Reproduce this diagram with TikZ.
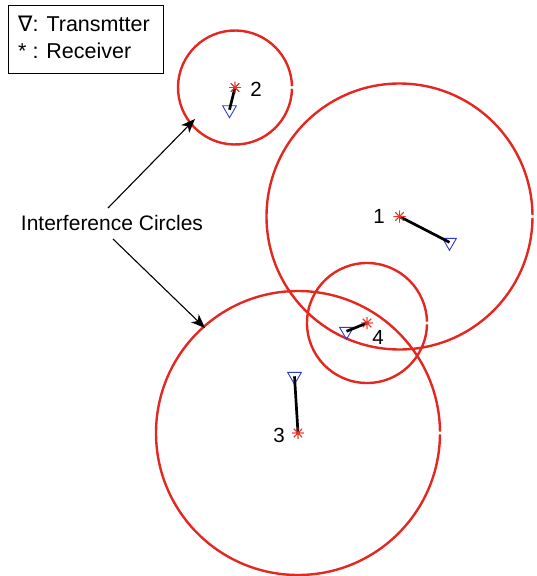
\documentclass[tikz,border=0pt]{standalone}
\usepackage{fontspec}
\setmainfont{Liberation Sans}
\newfontfamily\symfont{DejaVu Sans}
\usetikzlibrary{shapes.geometric,arrows.meta}
\definecolor{circred}{RGB}{226,40,32}
\definecolor{starred}{RGB}{235,50,40}
\definecolor{txblue}{RGB}{45,60,200}
\tikzset{
  intcirc/.style={circred,line width=2.4pt},
  rxnode/.style={circle,inner sep=0pt,minimum size=12pt,
    path picture={
      \draw[starred,line width=0.8pt]
        (path picture bounding box.north) -- (path picture bounding box.south)
        (path picture bounding box.west) -- (path picture bounding box.east)
        (path picture bounding box.north west) -- (path picture bounding box.south east)
        (path picture bounding box.north east) -- (path picture bounding box.south west);}},
  txnode/.style={regular polygon,regular polygon sides=3,shape border rotate=180,
    draw=txblue,line width=0.9pt,inner sep=0pt,minimum size=16pt},
  link/.style={black,line width=2.7pt},
  numlabel/.style={font=\fontsize{20.5}{24}\selectfont,inner sep=0pt},
  pointer/.style={black,line width=1.1pt,-{Stealth[length=14pt,width=11pt,inset=4pt]}},
  legendbox/.style={draw=black,line width=0.8pt,fill=white}
}
\newcommand{\intcircle}[2]{%
  \pgfmathsetmacro{\halfgap}{1.3/#2*57.2958}%
  \draw[intcirc] (#1) ++(\halfgap:#2) arc[start angle=\halfgap,end angle=360-\halfgap,radius=#2];}
\begin{document}
\begin{tikzpicture}[x=1pt,y=-1pt]
\useasboundingbox (0,0) rectangle (537,576);
% receivers
\node[rxnode] (r1) at (399.5,216.5) {};
\node[rxnode] (r2) at (235,87.5) {};
\node[rxnode] (r3) at (298,433) {};
\node[rxnode] (r4) at (367,323) {};
% circles
\intcircle{r1}{133}
\intcircle{r2}{57}
\intcircle{r3}{142}
\intcircle{r4}{60}
% transmitters
\node[txnode] (t1) at (449.5,242.3) {};
\node[txnode] (t2) at (229.5,109.7) {};
\node[txnode] (t3) at (294.5,376.3) {};
\node[txnode] (t4) at (346.5,331.3) {};
% links
\draw[link] (r1.center) -- (t1.center);
\draw[link] (r2.center) -- (t2.center);
\draw[link] (r3.center) -- (t3.center);
\draw[link] (r4.center) -- (t4.center);
% redraw receivers on top
\node[rxnode] at (r1) {};
\node[rxnode] at (r2) {};
\node[rxnode] at (r3) {};
\node[rxnode] at (r4) {};
% labels
\node[numlabel] (l1) at (379,216.5) {1};
\node[numlabel] (l2) at (256,89) {2};
\node[numlabel] (l3) at (279,435) {3};
\node[numlabel] (l4) at (378,337) {4};
% interference circles annotation
\node[numlabel,font=\fontsize{21}{24}\selectfont] (ic) at (112,223) {Interference Circles};
\coordinate (a1s) at (108,208);
\coordinate (a1e) at (195,119);
\coordinate (a2s) at (113,239);
\coordinate (a2e) at (205,328);
\draw[pointer] (a1s) -- (a1e);
\draw[pointer] (a2s) -- (a2e);
% legend
\node[legendbox,minimum width=155pt,minimum height=68pt,inner sep=0pt] (leg) at (85.5,39) {};
\node[anchor=base west,inner sep=0pt,font=\fontsize{21.5}{24}\selectfont] (lg1) at (18,31) {{\symfont ∇}: Transmtter};
\node[anchor=base west,inner sep=0pt,font=\fontsize{21.5}{24}\selectfont] (lg2) at (18,58) {* : Receiver};
\end{tikzpicture}
\end{document}
